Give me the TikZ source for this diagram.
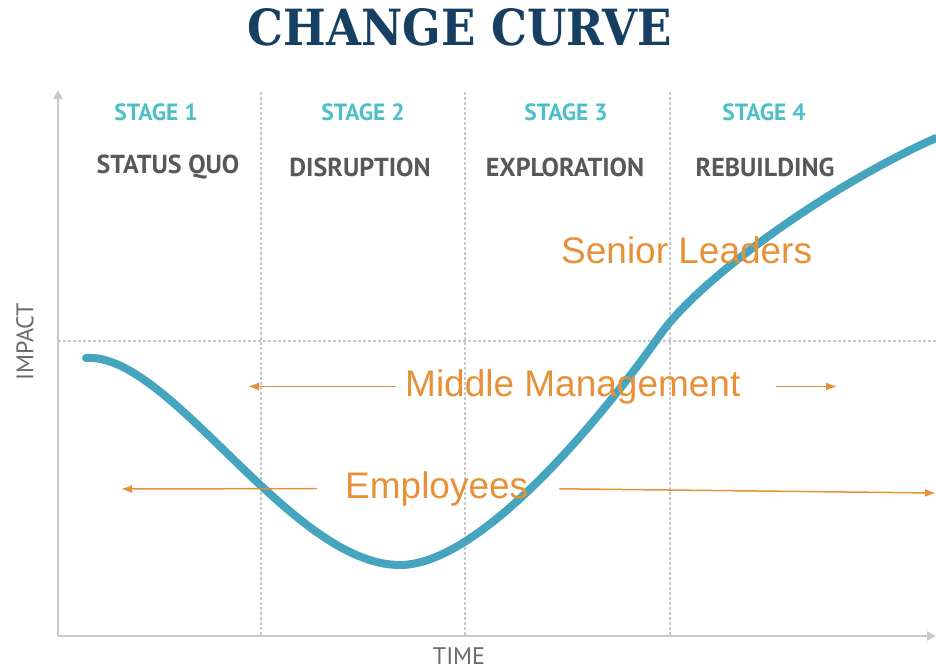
\documentclass[tikz,border=0pt]{standalone}
\usepackage{fontspec}
\setmainfont{Liberation Sans}
\newfontfamily\titulofont{DejaVu Serif}
\newfontfamily\etapafont{PT Sans}
\usetikzlibrary{arrows.meta}
\definecolor{azulmarino}{HTML}{173F62}
\definecolor{turquesa}{HTML}{4DBFC8}
\definecolor{curvacolor}{RGB}{70,165,190}
\definecolor{naranja}{HTML}{E69138}
\definecolor{gristexto}{HTML}{585858}
\definecolor{grisejes}{HTML}{C8C8C8}
\begin{document}
\begin{tikzpicture}[x=1pt,y=-1pt,
  eje/.style={grisejes, line width=2pt},
  guia/.style={grisejes, line width=1.2pt, dash pattern=on 3pt off 2pt},
  etapa/.style={text=turquesa, font=\etapafont\bfseries\fontsize{23.5}{23.5}\selectfont},
  fase/.style={text=gristexto, font=\etapafont\bfseries\fontsize{26}{26}\selectfont},
  grupo/.style={text=naranja, font=\fontsize{37}{37}\selectfont, inner sep=0pt},
  flecha/.style={naranja, line width=1.5pt, -{Latex[length=11pt,width=8pt]}}]
% Fijamos el tamano del dibujo, igual que la imagen original.
\useasboundingbox (0,0) rectangle (936,670);

% Titulo
\node (titulo) at (460,27) {\resizebox{424pt}{37pt}{\color{azulmarino}\titulofont\bfseries CHANGE CURVE}};

% Lineas guia punteadas: separan las cuatro etapas
\draw[guia] (261,92) -- (261,636);
\draw[guia] (465,92) -- (465,636);
\draw[guia] (670,92) -- (670,636);
\draw[guia] (58,341) -- (936,341);

% Ejes con sus nombres
\coordinate (origen) at (58,636);
\draw[eje, -{Triangle[length=9pt,width=9pt]}] (origen) -- (58,90);
\draw[eje, -{Triangle[length=9pt,width=9pt]}] (origen) -- (936,636);
\node[text=gristexto!90, font=\etapafont\fontsize{24}{24}\selectfont, rotate=90] (impacto) at (25,342) {IMPACT};
\node[text=gristexto!90, font=\etapafont\fontsize{24}{24}\selectfont, inner sep=0pt] (tiempo) at (459,656) {TIME};

% Nombres de las etapas
\node[etapa] (etapa1) at (156,112) {STAGE 1};
\node[etapa] (etapa2) at (363,112) {STAGE 2};
\node[etapa] (etapa3) at (566,112) {STAGE 3};
\node[etapa] (etapa4) at (764,112) {STAGE 4};
\node[fase] (fase1) at (168,167) {STATUS QUO};
\node[fase] (fase2) at (360,167) {DISRUPTION};
\node[fase] (fase3) at (565,167) {EXPLORATION};
\node[fase] (fase4) at (765,167) {REBUILDING};

% La curva del cambio: baja, toca fondo y sube
\draw[curvacolor, line width=8pt, line cap=round]
  (86,358) .. controls (170,352) and (290,565) .. (400,565)
           .. controls (480,565) and (600,420) .. (660,335)
           .. controls (700,278) and (830,185) .. (936,138);

% Grupos de personas y sus flechas
\node[grupo, anchor=base west] (lideres) at (561,263) {Senior Leaders};
\node[grupo, anchor=base west] (mandos) at (405,396) {Middle Management};
\node[grupo, anchor=base west] (empleados) at (345,498) {Employees};

\coordinate (mandosIzq) at (248,385);
\coordinate (mandosDer) at (837,385);
\coordinate (empleadosIzq) at (121,489);
\coordinate (empleadosDer) at (936,493);
\draw[flecha, shorten <=9pt] (mandos.west) -- (mandos.west -| mandosIzq);
\draw[flecha, shorten <=35pt] (mandos.east) -- (mandos.east -| mandosDer);
\draw[flecha, shorten <=28pt] (empleados.west) -- (empleadosIzq);
\draw[flecha, shorten <=31pt] (empleados.east) -- (empleadosDer);
\end{tikzpicture}
\end{document}
